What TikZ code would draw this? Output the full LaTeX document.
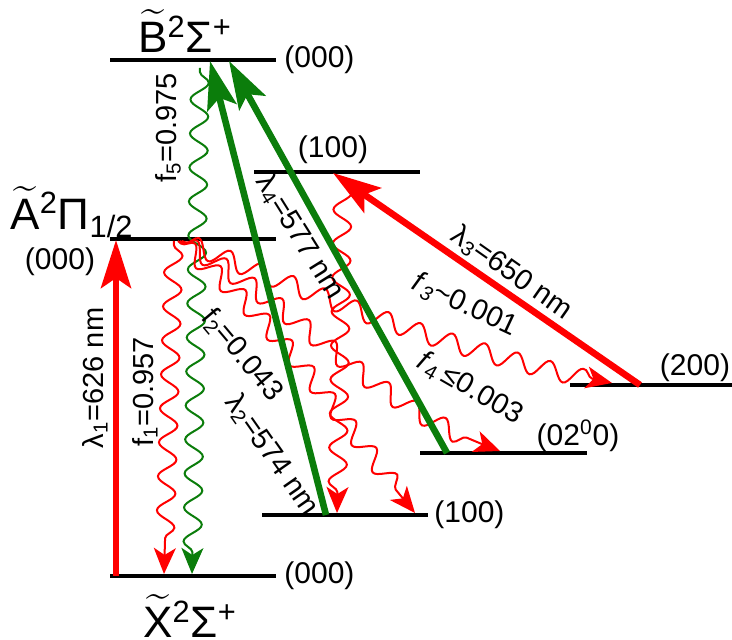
\documentclass[tikz,border=0pt]{standalone}
\usepackage{fontspec}
\setmainfont{Liberation Sans}
\usepackage{amsmath}
\usetikzlibrary{arrows.meta,decorations.pathmorphing}
\definecolor{Pump}{HTML}{FF0000}
\definecolor{Repump}{HTML}{0B7D0B}
\newcommand{\Level}[4]{%
  \draw[line width=2pt] (#2,#4) coordinate (#1-l) -- (#3,#4) coordinate (#1-r);%
}
\newcommand{\Tld}[1]{$\widetilde{\text{#1}}$}
\tikzset{
  laser/.style={line width=3.3pt,-{Stealth[length=24pt,width=15pt,inset=5pt]}},
  wave/.style={line width=1pt,decorate,
    decoration={snake,amplitude=4.5pt,segment length=17pt,pre length=2pt,post length=10pt},
    -{Stealth[length=13pt,width=11pt,inset=3.5pt]}},
  vib/.style={font=\fontsize{15}{18}\selectfont,inner sep=1pt},
  term/.style={font=\fontsize{22}{26}\selectfont,inner sep=1pt},
  tag/.style={font=\fontsize{14.5}{17}\selectfont,inner sep=1pt},
}

\begin{document}
\begin{tikzpicture}[x=0.5pt,y=0.5pt]
\useasboundingbox (0,0) rectangle (732,640);
% vibronic levels
\Level{B000}{110}{276}{580}
\Level{A100}{254}{420}{468}
\Level{A000}{110}{276}{401}
\Level{X200}{570}{732}{255}
\Level{X020}{420}{587}{187}
\Level{X100}{262}{428}{125}
\Level{X000}{110}{276}{64}
% term symbols and vibrational labels
\node[term] (Bterm) at (185,609) {\Tld{B}\textsuperscript{2}Σ\textsuperscript{+}};
\node[term] (Aterm) at (72,428) {\Tld{A}\textsuperscript{2}Π\textsubscript{1/2}};
\node[term] (Xterm) at (190,24) {\Tld{X}\textsuperscript{2}Σ\textsuperscript{+}};
\node[vib,anchor=west] (B000lab) at (282,580) {(000)};
\node[vib] (A100lab) at (333,490) {(100)};
\node[vib] (A000lab) at (60,378) {(000)};
\node[vib] (X200lab) at (695,272) {(200)};
\node[vib] (X020lab) at (578,204) {(02\textsuperscript{0}0)};
\node[vib,anchor=west] (X100lab) at (432,125) {(100)};
\node[vib,anchor=west] (X000lab) at (282,64) {(000)};
% end points of the transitions
\coordinate (p1a) at (116,64);   \coordinate (p1b) at (116,400);
\coordinate (p2a) at (326,125);  \coordinate (p2b) at (210,579);
\coordinate (p4a) at (447,187);  \coordinate (p4b) at (229,579);
\coordinate (p3a) at (640,255);  \coordinate (p3b) at (333,467);
\coordinate (w1a) at (174,399);  \coordinate (w1b) at (164,66);
\coordinate (w5a) at (200,572);  \coordinate (w5b) at (192,66);
\coordinate (wva) at (343,462);  \coordinate (wvb) at (337,127);
\coordinate (w2a) at (178,399);  \coordinate (w2b) at (415,127);
\coordinate (w4a) at (180,399);  \coordinate (w4b) at (500,189);
\coordinate (w3a) at (182,399);  \coordinate (w3b) at (612,257);
% spontaneous decays
\draw[wave,Pump] (w1a) -- (w1b);
\draw[wave,Repump] (w5a) -- (w5b);
\draw[wave,Pump] (wva) -- (wvb);
\draw[wave,Pump] (w2a) to[out=-40,in=130] (w2b);
\draw[wave,Pump] (w4a) to[out=-30,in=160] (w4b);
\draw[wave,Pump] (w3a) to[out=-22,in=168] (w3b);
% lasers
\draw[laser,Pump] (p1a) -- (p1b);
\draw[laser,Repump] (p2a) -- (p2b);
\draw[laser,Repump] (p4a) -- (p4b);
\draw[laser,Pump] (p3a) -- (p3b);
% transition labels
\node[tag,rotate=90] (l1tag) at (95,262) {λ\textsubscript{1}=626 nm};
\node[tag,rotate=90] (f1tag) at (145,248) {f\textsubscript{1}=0.957};
\node[tag,rotate=90] (f5tag) at (168,512) {f\textsubscript{5}=0.975};
\node[tag,rotate=-50] (f2tag) at (242,285) {f\textsubscript{2}=0.043};
\node[tag,rotate=-55] (l2tag) at (272,185) {λ\textsubscript{2}=574 nm};
\node[tag,rotate=-58] (l4tag) at (300,403) {λ\textsubscript{4}=577 nm};
\node[tag,rotate=-35] (l3tag) at (512,367) {λ\textsubscript{3}=650 nm};
\node[tag,rotate=-25] (f3tag) at (465,335) {\textit{f}\textsubscript{\textit{3}}\textasciitilde0.001};
\node[tag,rotate=-30] (f4tag) at (470,252) {\textit{f}\textsubscript{4}\,≤0.003};
\end{tikzpicture}
\end{document}
